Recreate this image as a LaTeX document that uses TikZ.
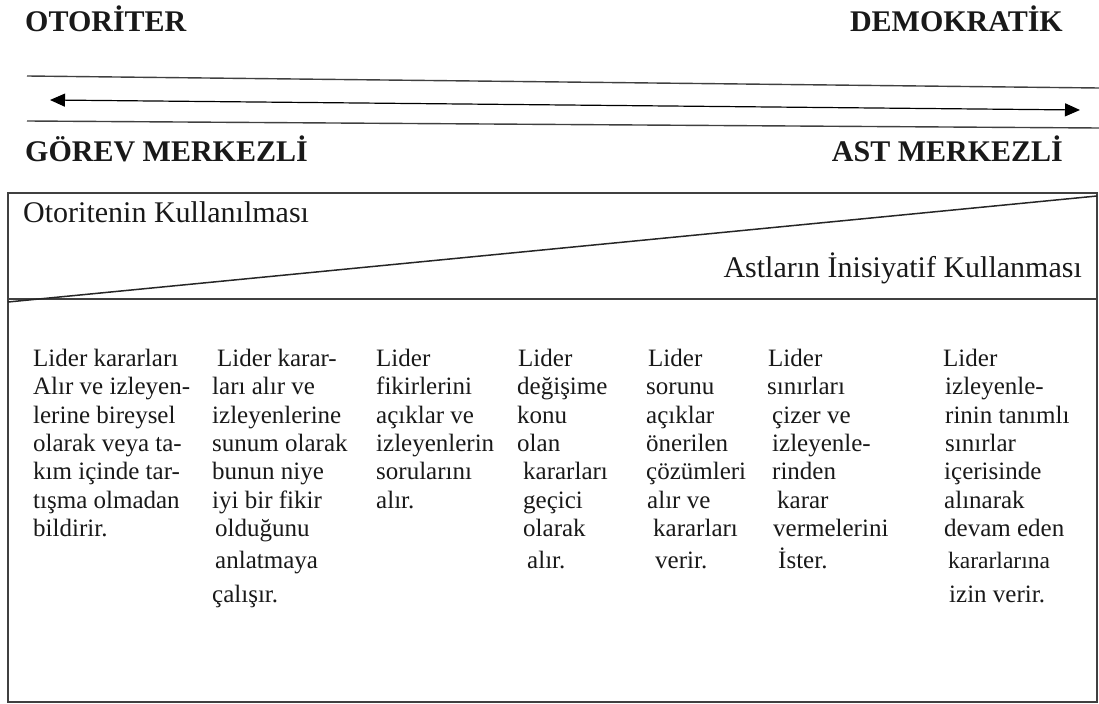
\documentclass[tikz,border=0pt]{standalone}
\usepackage{fontspec}
\setmainfont{Liberation Serif}
\usetikzlibrary{arrows.meta}
\begin{document}
\begin{tikzpicture}[x=1bp,y=-1bp,
  head/.style={font=\fontsize{30bp}{34bp}\selectfont\bfseries, inner sep=0pt, text=black!90},
  lab/.style={font=\fontsize{30bp}{34bp}\selectfont, inner sep=0pt, text=black!90},
  colt/.style={font=\fontsize{25bp}{28bp}\selectfont, inner sep=0pt, anchor=base west, text=black!90},
  small/.style={font=\fontsize{23.5bp}{28bp}\selectfont},
  rule/.style={draw=black!75, line width=1.4bp},
  frame/.style={draw=black!75, line width=1.6bp},
  arr/.style={draw=black, line width=1.2bp, {Triangle[length=15bp,width=13bp]}-{Triangle[length=15bp,width=13bp]}}]
\useasboundingbox (0,0) rectangle (1099,704);

% scale headings
\node[head, anchor=base west] (aut) at (25,32) {OTORİTER};
\node[head, anchor=base east] (dem) at (1063,32) {DEMOKRATİK};
\node[head, anchor=base west] (task) at (25,162) {GÖREV MERKEZLİ};
\node[head, anchor=base east] (sub) at (1063,162) {AST MERKEZLİ};

% continuum lines and double arrow
\coordinate (t1) at (27,76);  \coordinate (t2) at (1099,88);
\coordinate (b1) at (27,121); \coordinate (b2) at (1099,128);
\coordinate (aL) at (50,100); \coordinate (aR) at (1080,110);
\draw[rule] (t1) -- (t2);
\draw[rule] (b1) -- (b2);
\draw[arr] (aL) -- (aR);

% frame with authority / initiative split
\coordinate (fNW) at (8,193);  \coordinate (fSE) at (1097,702);
\coordinate (mL) at (8,299);   \coordinate (mR) at (1097,299);
\coordinate (dL) at (8,302);   \coordinate (dR) at (1097,196);
\draw[frame] (fNW) rectangle (fSE);
\draw[frame] (mL) -- (mR);
\draw[draw=black!85, line width=1.5bp] (dL) -- (dR);
\node[lab, anchor=base west] (auth) at (23,222) {Otoritenin Kullanılması};
\node[lab, anchor=base east] (init) at (1082,277) {Astların İnisiyatif Kullanması};

% behaviour columns
\foreach \x/\y/\t [count=\i] in {
  33/366/Lider kararları, 33/394/Alır ve izleyen-, 33/423/lerine bireysel,
  33/451/olarak veya ta-, 33/479/kım içinde tar-, 33/508/tışma olmadan, 33/536/bildirir.}
  \node[colt] (ca-\i) at (\x,\y) {\t};

\foreach \x/\y/\t [count=\i] in {
  217/366/Lider karar-, 212/394/ları alır ve, 212/423/izleyenlerine,
  212/451/sunum olarak, 212/479/bunun niye, 212/508/iyi bir fikir,
  215/536/olduğunu, 215/568/anlatmaya, 212/602/çalışır.}
  \node[colt] (cb-\i) at (\x,\y) {\t};

\foreach \x/\y/\t [count=\i] in {
  376/366/Lider, 376/394/fikirlerini, 376/423/açıklar ve,
  376/451/izleyenlerin, 376/479/sorularını, 376/508/alır.}
  \node[colt] (cc-\i) at (\x,\y) {\t};

\foreach \x/\y/\t [count=\i] in {
  518/366/Lider, 517/394/değişime, 517/423/konu, 517/451/olan,
  523/479/kararları, 523/508/geçici, 523/536/olarak, 527/568/alır.}
  \node[colt] (cd-\i) at (\x,\y) {\t};

\foreach \x/\y/\t [count=\i] in {
  648/366/Lider, 646/394/sorunu, 646/423/açıklar, 646/451/önerilen,
  646/479/çözümleri, 647/508/alır ve, 653/536/kararları, 655/568/verir.}
  \node[colt] (ce-\i) at (\x,\y) {\t};

\foreach \x/\y/\t [count=\i] in {
  768/366/Lider, 767/394/sınırları, 772/423/çizer ve, 772/451/izleyenle-,
  772/479/rinden, 777/508/karar, 773/536/vermelerini, 778/568/İster.}
  \node[colt] (cf-\i) at (\x,\y) {\t};

\foreach \x/\y/\t [count=\i] in {
  943/366/Lider, 945/394/izleyenle-, 945/423/rinin tanımlı, 945/451/sınırlar,
  944/479/içerisinde, 944/508/alınarak, 944/536/devam eden}
  \node[colt] (cg-\i) at (\x,\y) {\t};
\node[colt, small] (cg-8) at (948,568) {kararlarına};
\node[colt] (cg-9) at (949,602) {izin verir.};
\end{tikzpicture}
\end{document}
